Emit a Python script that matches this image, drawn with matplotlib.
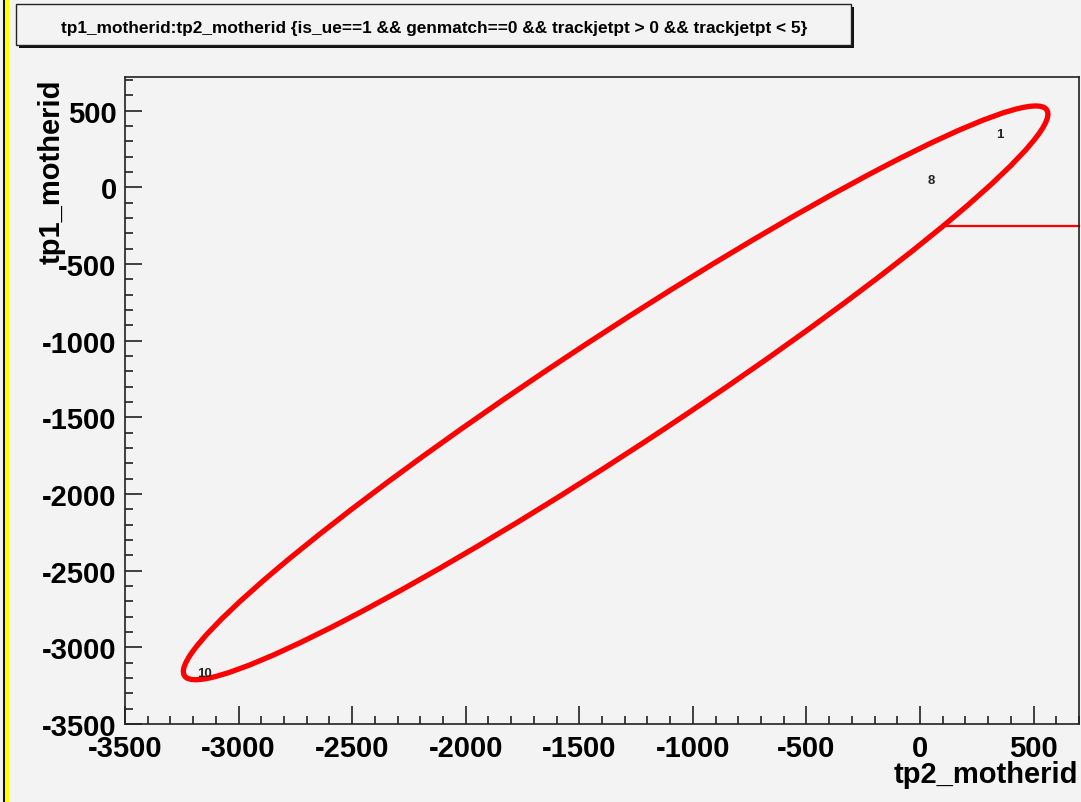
import numpy as np
import matplotlib
matplotlib.use('Agg')
from matplotlib import pyplot as plt
from matplotlib.patches import Ellipse, Rectangle
from matplotlib.ticker import MultipleLocator

plt.rcParams['axes.unicode_minus'] = False

# bin contents drawn as text (x, y, count)
txt_x = [350, 50, -3150]
txt_y = [350, 50, -3170]
txt_n = ['1', '8', '10']

# ellipse (center, radii, angle in data coords)
ell_cx, ell_cy = -1340, -1340
ell_r1, ell_r2 = 2650, 318
ell_theta = 44.5

# horizontal line
line_x = [110, 700]
line_y = [-250, -250]

xlim = (-3500, 700)
ylim = (-3500, 720)
title = 'tp1_motherid:tp2_motherid {is_ue==1 && genmatch==0 && trackjetpt > 0 && trackjetpt < 5}'

bg = '#f3f3f3'
W, H = 1081, 803
fig = plt.figure(figsize=(W / 100, H / 100), dpi=100, facecolor=bg)
ax = fig.add_axes([125 / W, 1 - 725 / H, (1079 - 125) / W, (725 - 78) / H])
ax.set_facecolor(bg)
ax.set_xlim(xlim)
ax.set_ylim(ylim)

ax.add_patch(Ellipse((ell_cx, ell_cy), 2 * ell_r1, 2 * ell_r2, angle=ell_theta,
                     fill=False, edgecolor='#ff0000', lw=3.8))
ax.plot(line_x, line_y, color='#ff0000', lw=1.6, clip_on=False)

for x, y, s in zip(txt_x, txt_y, txt_n):
    ax.text(x, y, s, ha='center', va='center', fontsize=9.5, fontweight='bold',
            color='#222222', family='Liberation Sans')

ax.xaxis.set_major_locator(MultipleLocator(500))
ax.xaxis.set_minor_locator(MultipleLocator(100))
ax.yaxis.set_major_locator(MultipleLocator(500))
ax.yaxis.set_minor_locator(MultipleLocator(100))
ax.tick_params(which='both', direction='in', top=False, right=False, width=1.2, color='#222222')
ax.tick_params(axis='x', which='major', length=13)
ax.tick_params(axis='x', which='minor', length=6)
ax.tick_params(axis='y', which='major', length=12)
ax.tick_params(axis='y', which='minor', length=6)
ax.tick_params(axis='x', pad=7)
ax.tick_params(axis='y', pad=6)
for lab in ax.get_xticklabels() + ax.get_yticklabels():
    lab.set_fontfamily('Liberation Sans')
    lab.set_fontweight('bold')
    lab.set_fontsize(21)
for sp in ax.spines.values():
    sp.set_linewidth(1.2)
    sp.set_color('#222222')

fig.text(1078 / W, 1 - 775 / H, 'tp2_motherid', ha='right', va='center',
         fontsize=21, fontweight='bold', family='Liberation Sans')
fig.text(52 / W, 1 - 80 / H, 'tp1_motherid', ha='center', va='top', rotation=90,
         fontsize=21, fontweight='bold', family='Liberation Sans')

# title box with shadow
fig.patches.append(Rectangle((19 / W, 1 - 49 / H), (854 - 19) / W, (49 - 8) / H,
                             transform=fig.transFigure, facecolor='#111111', edgecolor='none'))
fig.patches.append(Rectangle((16 / W, 1 - 46 / H), (851 - 16) / W, (46 - 5) / H,
                             transform=fig.transFigure, facecolor=bg, edgecolor='#222222', lw=1))
fig.text(434 / W, 1 - 28 / H, title, ha='center', va='center', fontsize=12.4,
         fontweight='bold', family='Liberation Sans')

# left border strips
fig.patches.append(Rectangle((2.5 / W, 0), 2 / W, 1, transform=fig.transFigure,
                             facecolor='#111111', edgecolor='none'))
fig.patches.append(Rectangle((4.5 / W, 0), 4 / W, 1, transform=fig.transFigure,
                             facecolor='#ffff00', edgecolor='none'))

fig.savefig('out.png', dpi=100, facecolor=bg)
